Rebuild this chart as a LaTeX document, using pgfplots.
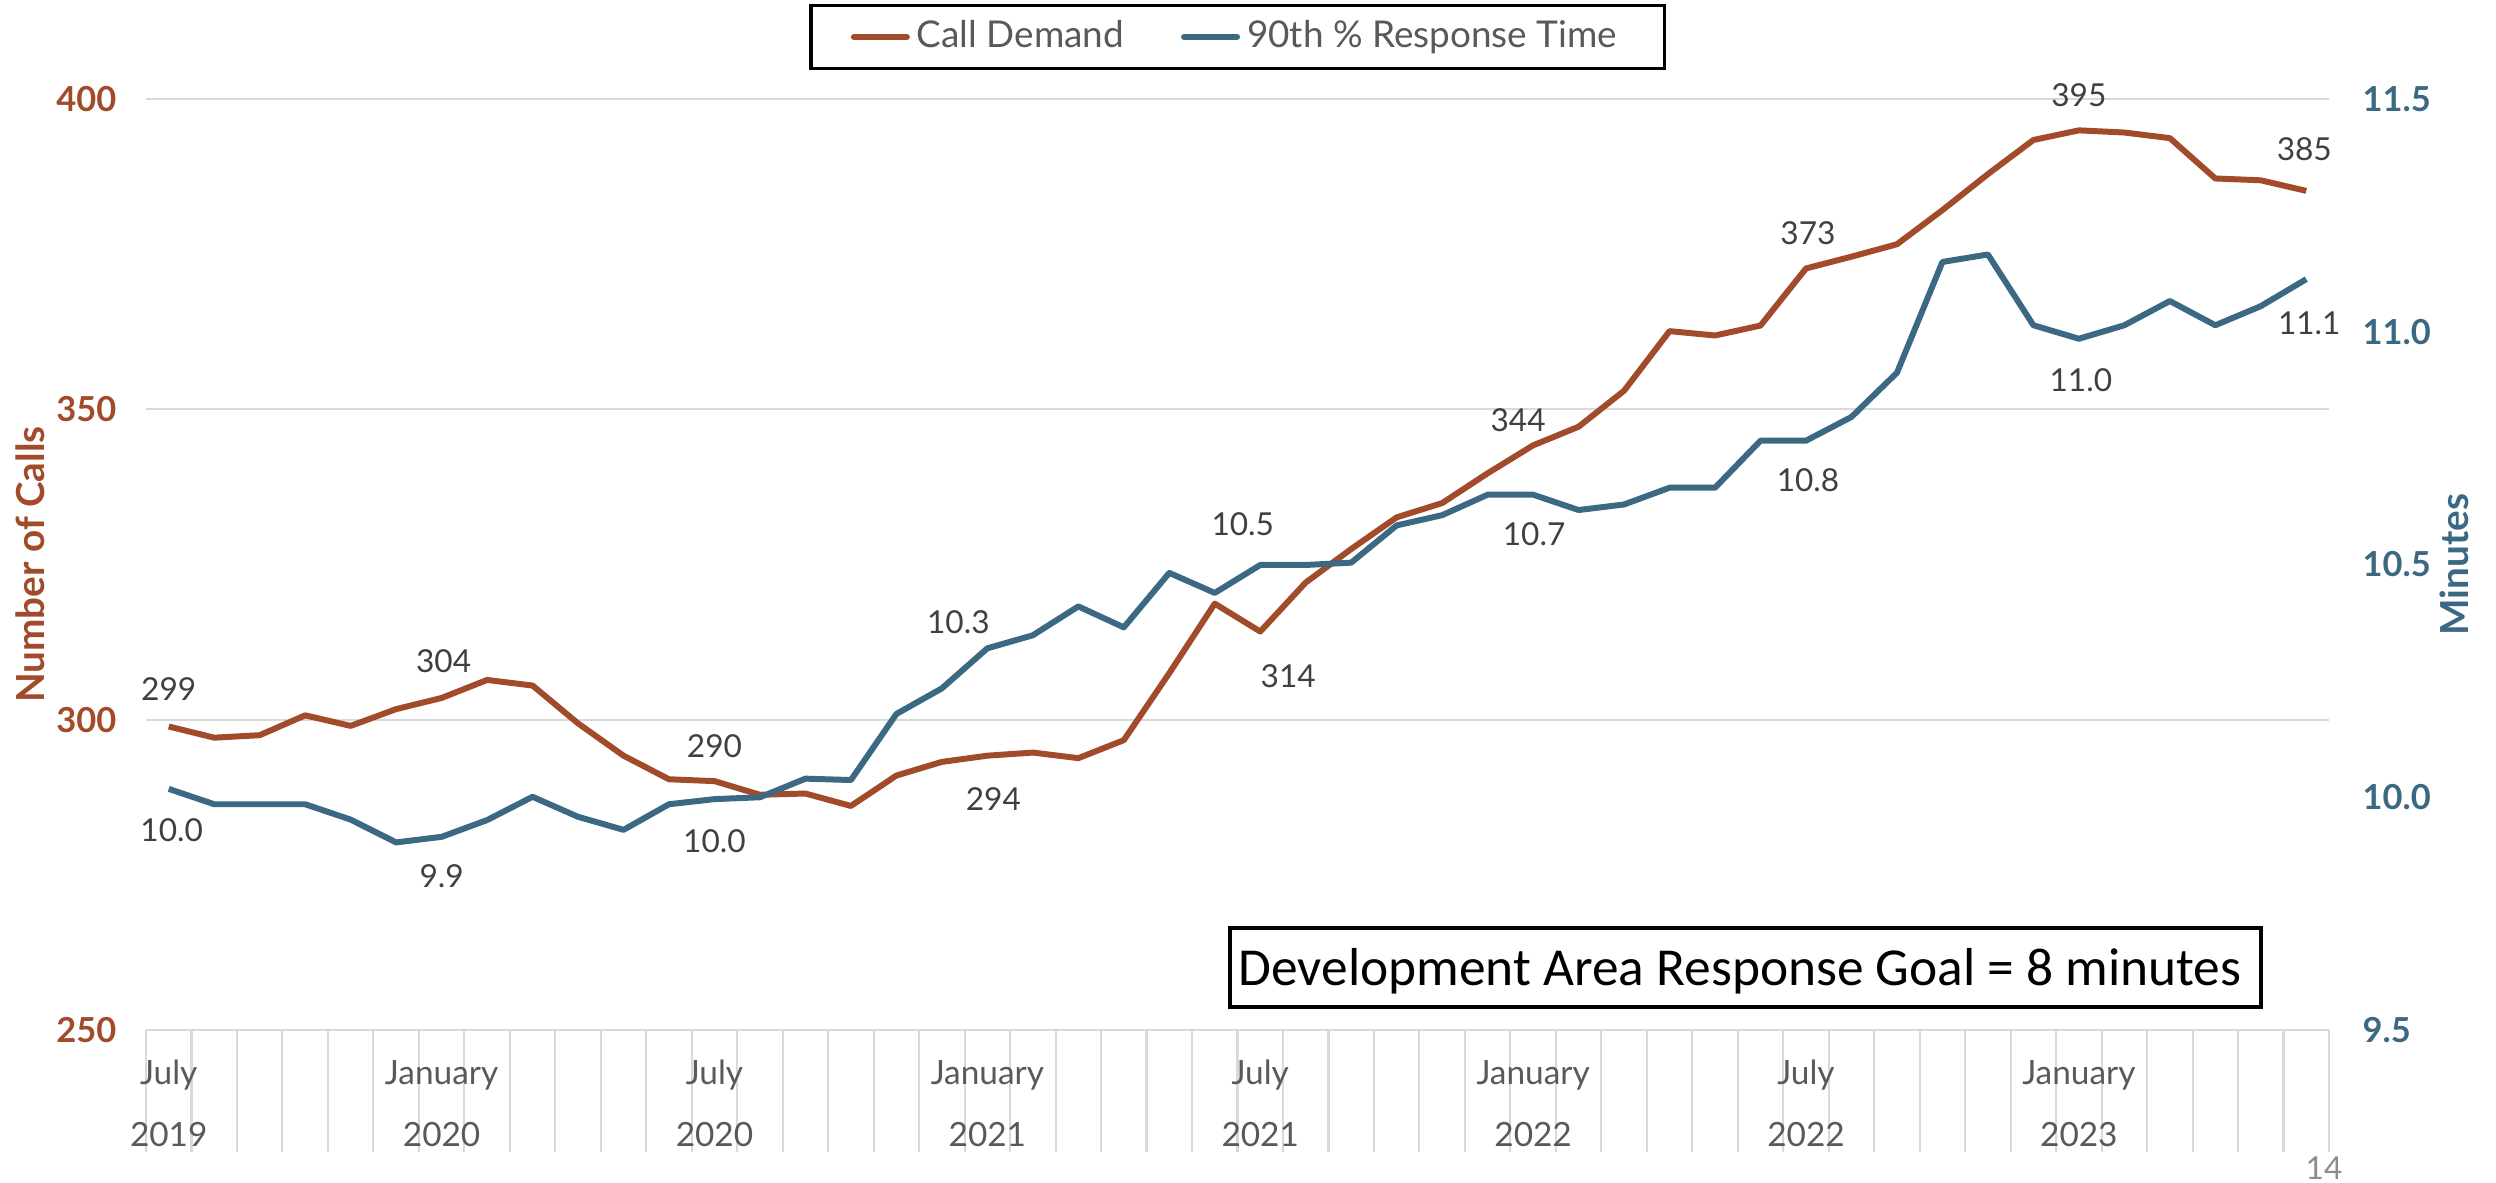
\documentclass[border=0pt]{standalone}
\usepackage{pgfplots}
\pgfplotsset{compat=1.18}
\usepackage{pgfplotstable}
\usepackage{fontspec}
\setmainfont{Lato}
\newfontfamily\carlito{Carlito}
\definecolor{corange}{HTML}{A14B2B}
\definecolor{cblue}{HTML}{3B6882}
\definecolor{gridgray}{HTML}{D9D9D9}
\definecolor{labgray}{HTML}{404040}
\definecolor{axgray}{HTML}{595959}
\definecolor{pggray}{HTML}{8C8C8C}

\pgfplotsset{dlab/.style 2 args={draw=none, mark=none, forget plot, nodes near coords, point meta=explicit symbolic,
  nodes near coords style={anchor=center, xshift=#1cm, yshift=#2cm, font=\fontsize{9}{10}\selectfont, text=labgray, inner sep=0pt}}}

\pgfplotstableread{
x y
0 298.9
1 297.1
2 297.5
3 300.7
4 299.0
5 301.7
6 303.5
7 306.4
8 305.5
9 299.4
10 294.2
11 290.4
12 290.1
13 287.9
14 288.1
15 286.1
16 291.0
17 293.2
18 294.2
19 294.7
20 293.8
21 296.7
22 307.5
23 318.7
24 314.2
25 322.1
26 327.5
27 332.6
28 334.9
29 339.7
30 344.2
31 347.2
32 353.0
33 362.6
34 361.9
35 363.5
36 372.7
37 374.6
38 376.6
39 382.1
40 387.9
41 393.4
42 394.95
43 394.6
44 393.7
45 387.2
46 386.9
47 385.2
}\demand

\pgfplotstableread{
x y
0 10.018
1 9.985
2 9.985
3 9.985
4 9.952
5 9.903
6 9.915
7 9.951
8 10.001
9 9.958
10 9.930
11 9.985
12 9.996
13 10.000
14 10.040
15 10.037
16 10.179
17 10.234
18 10.320
19 10.348
20 10.410
21 10.365
22 10.482
23 10.439
24 10.499
25 10.499
26 10.504
27 10.584
28 10.606
29 10.650
30 10.650
31 10.617
32 10.629
33 10.665
34 10.665
35 10.766
36 10.766
37 10.817
38 10.912
39 11.150
40 11.166
41 11.014
42 10.985
43 11.014
44 11.066
45 11.014
46 11.055
47 11.113
}\resp

\begin{document}
\begin{tikzpicture}
\useasboundingbox (0,0) rectangle (24.96,11.82);
\begin{axis}[
  at={(1.46cm,1.52cm)}, anchor=south west,
  width=21.83cm, height=9.31cm, scale only axis,
  xmin=-0.5, xmax=47.5, ymin=250, ymax=400,
  ytick={250,300,350,400},
  ymajorgrids, grid style={gridgray, line width=0.6pt},
  axis x line*=bottom, axis y line*=left,
  x axis line style={gridgray, line width=0.7pt},
  y axis line style={draw=none},
  xtick={0,6,...,42},
  xticklabels={July,January,July,January,July,January,July,January},
  extra x ticks={0,6,...,42},
  extra x tick labels={2019,2020,2020,2021,2021,2022,2022,2023},
  extra x tick style={xticklabel style={yshift=-0.62cm}},
  minor xtick={-0.5,0.5,...,47.5},
  tick align=outside,
  major tick length=0pt,
  minor tick length=1.22cm,
  minor tick style={gridgray, line width=0.6pt},
  xticklabel style={font=\fontsize{9.5}{11}\selectfont, text=axgray, anchor=base, yshift=-0.54cm, inner sep=0pt},
  yticklabel style={font=\bfseries\fontsize{9.8}{11}\selectfont, text=corange, anchor=east, inner sep=0pt, xshift=-0.29cm},
  /pgf/number format/assume math mode=true,
  ylabel={Number of Calls},
  every axis y label/.style={at={(axis description cs:-0.0463,0.5)}, rotate=90, anchor=base, font=\bfseries\fontsize{11}{13}\selectfont, text=corange},
  clip=false,
  legend style={at={(0.5,1.0666)}, anchor=center, draw=black, line width=0.9pt, legend columns=2, font=\fontsize{10.5}{12}\selectfont, text=axgray, inner xsep=0.4cm, inner ysep=0.08cm, /tikz/every even column/.append style={column sep=0.5cm}},
  legend image code/.code={\draw[#1, line width=1.7pt, line cap=round] (0cm,0cm) -- (0.53cm,0cm);},
]
\addplot[corange, line width=1.7pt, mark=none, line join=round] table[x=x,y=y]{\demand};
\addlegendentry{Call Demand}
\addlegendimage{cblue, line width=1.7pt}
\addlegendentry{90th \% Response Time}
\addplot[dlab={0}{0.37}] coordinates {(0,298.9)[299]};
\addplot[dlab={0.02}{0.37}] coordinates {(6,303.5)[304]};
\addplot[dlab={0}{0.345}] coordinates {(12,290.1)[290]};
\addplot[dlab={0.06}{-0.43}] coordinates {(18,294.2)[294]};
\addplot[dlab={0.28}{-0.45}] coordinates {(24,314.2)[314]};
\addplot[dlab={-0.15}{0.25}] coordinates {(30,344.2)[344]};
\addplot[dlab={0.02}{0.355}] coordinates {(36,372.7)[373]};
\addplot[dlab={0}{0.35}] coordinates {(42,394.95)[395]};
\addplot[dlab={-0.02}{0.42}] coordinates {(47,385.2)[385]};
\end{axis}
\begin{axis}[
  at={(1.46cm,1.52cm)}, anchor=south west,
  width=21.83cm, height=9.31cm, scale only axis,
  xmin=-0.5, xmax=47.5, ymin=9.5, ymax=11.5,
  ytick={9.5,10,10.5,11,11.5},
  axis y line*=right, axis x line=none,
  y axis line style={draw=none},
  major tick length=0pt,
  /pgf/number format/fixed, /pgf/number format/fixed zerofill, /pgf/number format/precision=1,
  /pgf/number format/assume math mode=true,
  yticklabel style={font=\bfseries\fontsize{9.8}{11}\selectfont, text=cblue, anchor=west, inner sep=0pt, xshift=0.33cm},
  ylabel={Minutes},
  every axis y label/.style={at={(axis description cs:1.0637,0.5)}, rotate=90, anchor=base, font=\bfseries\fontsize{11}{13}\selectfont, text=cblue},
  clip=false,
]
\addplot[cblue, line width=1.7pt, mark=none, line join=round] table[x=x,y=y]{\resp};
\addplot[dlab={0.03}{-0.41}] coordinates {(0,10.018)[10.0]};
\addplot[dlab={0}{-0.39}] coordinates {(6,9.915)[9.9]};
\addplot[dlab={0}{-0.42}] coordinates {(12,9.996)[10.0]};
\addplot[dlab={-0.29}{0.26}] coordinates {(18,10.320)[10.3]};
\addplot[dlab={-0.175}{0.41}] coordinates {(24,10.499)[10.5]};
\addplot[dlab={0.01}{-0.39}] coordinates {(30,10.650)[10.7]};
\addplot[dlab={0.02}{-0.395}] coordinates {(36,10.766)[10.8]};
\addplot[dlab={0.02}{-0.415}] coordinates {(42,10.985)[11.0]};
\addplot[dlab={0.03}{-0.44}] coordinates {(47,11.113)[11.1]};
\end{axis}
\draw[black, line width=0.9pt] (12.30,1.75) rectangle (22.61,2.54);
\node[anchor=base, inner sep=0pt, font=\carlito\fontsize{15.2}{18}\selectfont] at (17.40,1.965) {Development Area Response Goal = 8 minutes};
\node[font=\fontsize{9}{10}\selectfont, text=pggray] at (23.24,0.14) {14};
\end{tikzpicture}
\end{document}
